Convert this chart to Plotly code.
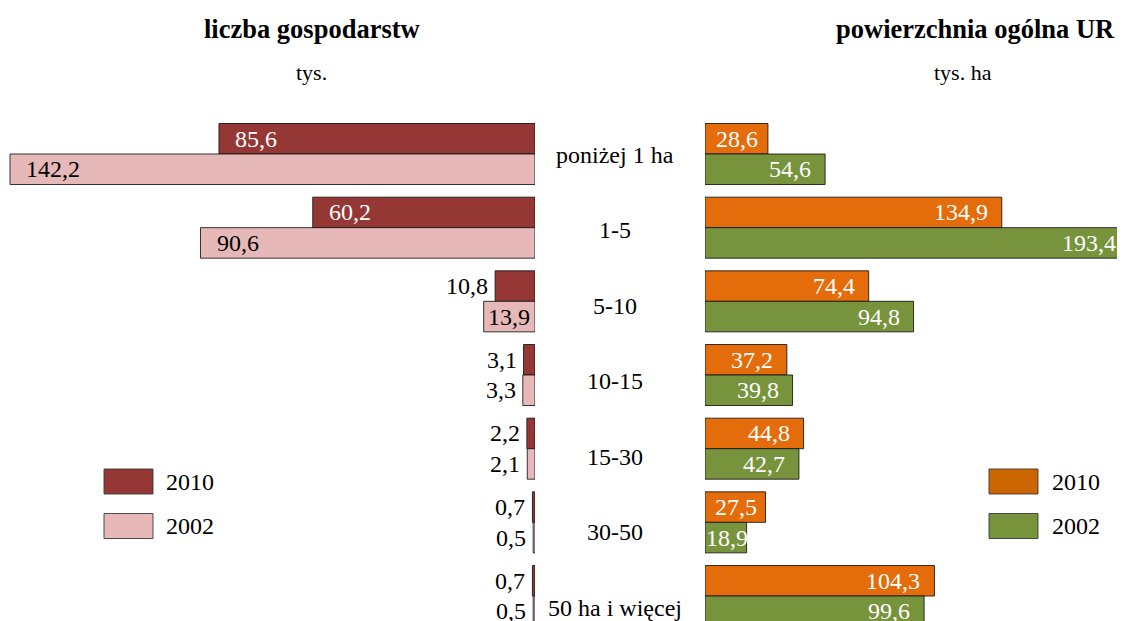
import plotly.graph_objects as go

categories = ["poniżej 1 ha", "1-5", "5-10", "10-15", "15-30", "30-50", "50 ha i więcej"]
farms_2010 = [85.6, 60.2, 10.8, 3.1, 2.2, 0.7, 0.7]
farms_2002 = [142.2, 90.6, 13.9, 3.3, 2.1, 0.5, 0.5]
area_2010 = [28.6, 134.9, 74.4, 37.2, 44.8, 27.5, 104.3]
area_2002 = [54.6, 193.4, 94.8, 39.8, 42.7, 18.9, 99.6]
years = ["2010", "2002"]

W, H = 1125, 621
OFF = 8  # page body margin offset
FONT = "Liberation Serif, Times New Roman, serif"
C_L10, C_L02 = "#953735", "#E6B9B8"
C_R10, C_R02 = "#E46C0A", "#77933C"
C_R10_LEG = "#CC6600"
EDGE = "rgba(20,20,20,0.85)"
FS = 24
FS_UNIT = 22
FS_TITLE = 26.5


def px(tx):
    return (tx - OFF) / W


def py(ty):
    return 1 - (ty - OFF) / H


ypos = list(range(len(categories)))
half = 0.207  # half bar thickness in category units
PITCH = 73.67
ROW0 = 154 - OFF

fig = go.Figure()
fig.add_trace(go.Bar(y=ypos, x=farms_2010, orientation="h", xaxis="x", yaxis="y",
                     marker=dict(color=C_L10, line=dict(color=EDGE, width=1)), name=years[0]))
fig.add_trace(go.Bar(y=ypos, x=farms_2002, orientation="h", xaxis="x", yaxis="y",
                     marker=dict(color=C_L02, line=dict(color=EDGE, width=1)), name=years[1]))
fig.add_trace(go.Bar(y=ypos, x=area_2010, orientation="h", xaxis="x2", yaxis="y",
                     marker=dict(color=C_R10, line=dict(color=EDGE, width=1)), name=years[0]))
fig.add_trace(go.Bar(y=ypos, x=area_2002, orientation="h", xaxis="x2", yaxis="y",
                     marker=dict(color=C_R02, line=dict(color=EDGE, width=1)), name=years[1]))


def fmt(v):
    return f"{v:.1f}".replace(".", ",")


ann = []
# left panel labels (reversed axis: bar end is on the left)
for vals, off, incol in ((farms_2010, -half, "white"), (farms_2002, half, "black")):
    for i, v in enumerate(vals):
        if v >= 30:
            a = dict(x=v, xanchor="left", xshift=14, color=incol)
        elif v >= 13:
            a = dict(x=v / 2, xanchor="center", xshift=0, color=incol)
        else:
            a = dict(x=v, xanchor="right", xshift=-5, color="black")
        ann.append(dict(x=a["x"], y=i + off, xref="x", yref="y", text=fmt(v), showarrow=False,
                        xanchor=a["xanchor"], yanchor="middle", xshift=a["xshift"],
                        font=dict(family=FONT, size=FS, color=a["color"])))
# right panel labels
for vals, off in ((area_2010, -half), (area_2002, half)):
    for i, v in enumerate(vals):
        if v >= 30:
            a = dict(x=v, xanchor="right", xshift=-12)
        else:
            a = dict(x=v / 2, xanchor="center", xshift=1)
        ann.append(dict(x=a["x"], y=i + off, xref="x2", yref="y", text=fmt(v), showarrow=False,
                        xanchor=a["xanchor"], yanchor="middle", xshift=a["xshift"],
                        font=dict(family=FONT, size=FS, color="white")))
# category labels in the middle
for i, c in enumerate(categories):
    ann.append(dict(x=px(615), y=i, xref="paper", yref="y", text=c, showarrow=False,
                    xanchor="center", yanchor="middle", yshift=-(1 + 1.75 * i),
                    font=dict(family=FONT, size=FS, color="black")))
# titles
titles = [
    (311.5, 29, "<b>liczba gospodarstw</b>", FS_TITLE),
    (311, 72, "tys.", FS_UNIT),
    (975.5, 29, "<b>powierzchnia ogólna UR</b>", FS_TITLE),
    (963, 72, "tys. ha", FS_UNIT),
]
for tx, ty, txt, fs in titles:
    ann.append(dict(x=px(tx), y=py(ty), xref="paper", yref="paper", text=txt,
                    showarrow=False, xanchor="center", yanchor="middle",
                    font=dict(family=FONT, size=fs, color="black")))

shapes = []
legend_items = [
    (104, 164, [(C_L10, years[0]), (C_L02, years[1])]),
    (989, 1050, [(C_R10_LEG, years[0]), (C_R02, years[1])]),
]
for x0, tx, items in legend_items:
    for k, (col, lab) in enumerate(items):
        yt = 469 + 44.5 * k
        shapes.append(dict(type="rect", xref="paper", yref="paper",
                           x0=px(x0), x1=px(x0 + 49), y0=py(yt + 25), y1=py(yt),
                           fillcolor=col, line=dict(color="rgba(60,60,60,0.9)", width=1)))
        ann.append(dict(x=px(tx), y=py(yt + 12.5), xref="paper", yref="paper", text=lab,
                        showarrow=False, xanchor="left", yanchor="middle",
                        font=dict(family=FONT, size=FS, color="black")))

px_unit_left = 525 / 142.2
px_unit_right = 2.2
left_end = 535 - OFF
right_start = 705 - OFF
fig.update_layout(
    width=W, height=H, margin=dict(l=0, r=0, t=0, b=0),
    paper_bgcolor="white", plot_bgcolor="white",
    barmode="group", bargap=0.172, bargroupgap=0,
    showlegend=False,
    xaxis=dict(domain=[0, left_end / W], range=[left_end / px_unit_left, 0],
               visible=False, fixedrange=True),
    xaxis2=dict(domain=[right_start / W, 1], range=[0, (W - right_start) / px_unit_right],
                visible=False, fixedrange=True),
    yaxis=dict(domain=[0, 1], range=[(H - ROW0) / PITCH, -ROW0 / PITCH],
               visible=False, fixedrange=True),
    annotations=ann, shapes=shapes,
)
fig.write_html("out.html")
